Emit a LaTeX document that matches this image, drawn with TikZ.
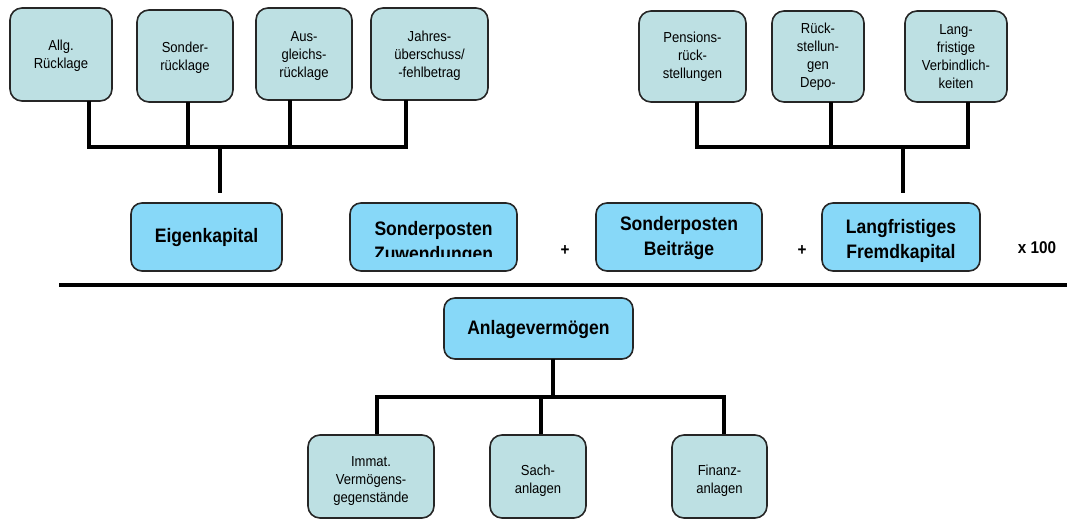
\documentclass[tikz,border=0pt]{standalone}
\usepackage{fontspec}
\setmainfont{Liberation Sans}
\newfontfamily\condfont[FakeStretch=0.9]{Liberation Sans}
\definecolor{lightbox}{RGB}{189,224,227}
\definecolor{bluebox}{RGB}{135,216,248}
\begin{document}
\begin{tikzpicture}[x=1pt,y=-1pt,
  smallbox/.style={draw=black!85,line width=1.6pt,fill=lightbox,rounded corners=12pt},
  bigbox/.style={draw=black!85,line width=1.6pt,fill=bluebox,rounded corners=11pt},
  smalltext/.style={font=\condfont\fontsize{14.5}{18}\selectfont,align=center,inner sep=0pt},
  bigtext/.style={font=\condfont\bfseries\fontsize{19.5}{24.5}\selectfont,align=center,inner sep=0pt},
  conn/.style={line width=4pt,black},
  opsym/.style={font=\condfont\bfseries\fontsize{17}{20}\selectfont,inner sep=0pt}]
\useasboundingbox (0,0) rectangle (1074,519);
\clip (0,0) rectangle (1074,519);
% top left boxes
\path[smallbox] (10,8) rectangle (112,101);
\node[smalltext] (allg) at (61,56) {Allg.\\Rücklage};
\path[smallbox] (137,10) rectangle (233,102);
\node[smalltext] (sond) at (185,58) {Sonder-\\rücklage};
\path[smallbox] (256,8) rectangle (352,100);
\node[smalltext] (ausg) at (304,56) {Aus-\\gleichs-\\rücklage};
\path[smallbox] (371,8) rectangle (488,100);
\node[smalltext] (jahr) at (429.5,56) {Jahres-\\überschuss/\\-fehlbetrag};
% top right boxes
\path[smallbox] (639,11) rectangle (746,102);
\node[smalltext] (pens) at (692.5,57) {Pensions-\\rück-\\stellungen};
\path[smallbox] (772,11) rectangle (864,102);
\node[smalltext] (rueck) at (818,57) {Rück-\\stellun-\\gen\\Depo-};
\path[smallbox] (905,11) rectangle (1007,102);
\node[smalltext] (lang) at (956,57) {Lang-\\fristige\\Verbindlich-\\keiten};
% connectors top left
\coordinate (jl) at (220,147);
\coordinate (jlb) at (220,193);
\draw[conn] (89,101) |- (406,147);
\draw[conn] (188,102) -- (188,147);
\draw[conn] (290,100) -- (290,147);
\draw[conn] (406,100) -- (406,149);
\draw[conn] (jl) -- (jlb);
% connectors top right
\coordinate (jr) at (903,147);
\coordinate (jrb) at (903,193);
\draw[conn] (697,102) |- (968,147);
\draw[conn] (831,102) -- (831,147);
\draw[conn] (968,102) -- (968,149);
\draw[conn] (jr) -- (jrb);
% middle row
\path[bigbox] (131,203) rectangle (282,271);
\node[bigtext] (eigen) at (206.5,237) {Eigenkapital};
\path[bigbox] (350,203) rectangle (517,271);
\begin{scope}
\clip (350,200) rectangle (517,256);
\node[bigtext] (zuw) at (433.5,243) {Sonderposten\\Zuwendungen};
\end{scope}
\node[opsym] (plus1) at (565,251) {+};
\path[bigbox] (596,203) rectangle (762,271);
\node[bigtext] (beit) at (679,238) {Sonderposten\\Beiträge};
\node[opsym] (plus2) at (802,251) {+};
\path[bigbox] (822,203) rectangle (980,271);
\node[bigtext] (fremd) at (901,241) {Langfristiges\\Fremdkapital};
\node[opsym] (mal) at (1037,248) {x 100};
% fraction line
\coordinate (fl) at (59,285);
\coordinate (fr) at (1067,285);
\draw[line width=4pt] (fl) -- (fr);
% bottom
\path[bigbox] (444,298) rectangle (633,359);
\node[bigtext] (anl) at (538.5,329) {Anlagevermögen};
\coordinate (ja) at (553,397);
\draw[conn] (553,359) -- (ja);
\draw[conn] (377,436) |- (724,397) -- (724,436);
\draw[conn] (541,397) -- (541,436);
\path[smallbox] (308,435) rectangle (434,518);
\node[smalltext] (immat) at (371,481) {Immat.\\Vermögens-\\gegenstände};
\path[smallbox] (490,435) rectangle (586,518);
\node[smalltext] (sach) at (538,481) {Sach-\\anlagen};
\path[smallbox] (672,435) rectangle (767,518);
\node[smalltext] (fin) at (719.5,481) {Finanz-\\anlagen};
\end{tikzpicture}
\end{document}
